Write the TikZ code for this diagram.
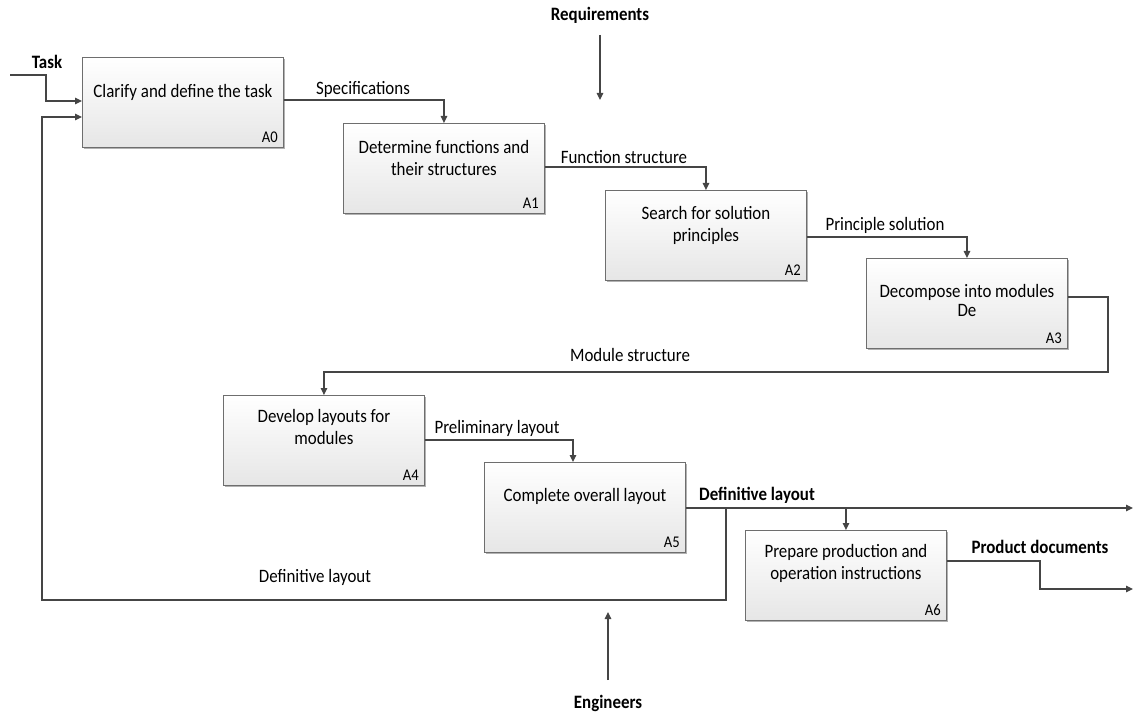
\documentclass[tikz,border=0pt]{standalone}
\usepackage{fontspec}
\setmainfont{Carlito}
\usetikzlibrary{arrows.meta,shadows,calc}
\definecolor{wire}{HTML}{454545}
\definecolor{boxline}{HTML}{6E6E6E}
\definecolor{boxlow}{HTML}{E6E6E6}
% glyphs of this sheet are set slightly taller than wide
\newcommand{\tall}[1]{\scalebox{1}[1.12]{#1}}
\newcommand{\lines}[1]{\tall{\begin{tabular}{@{}c@{}}#1\end{tabular}}}
\begin{document}
\begin{tikzpicture}[x=1pt,y=-1pt,
  font=\fontsize{16.9}{20}\selectfont,
  box/.style={draw=boxline, line width=0.9pt, top color=white, bottom color=boxlow,
    minimum width=201pt, minimum height=90pt, inner sep=0pt, anchor=north west,
    drop shadow={shadow xshift=2pt, shadow yshift=-2pt, opacity=0.3, fill=black}},
  boxtext/.style={align=center, inner sep=0pt},
  boxid/.style={font=\fontsize{14.6}{18}\selectfont, inner sep=0pt, anchor=south east},
  flow/.style={draw=wire, line width=1.2pt, -{Triangle[length=7pt,width=6.5pt]}},
  tag/.style={inner sep=0pt},
  boldtag/.style={inner sep=0pt, font=\fontsize{16.9}{20}\selectfont\bfseries},
]
\useasboundingbox (0,0) rectangle (1138,719);

% activity boxes
\node[box] (a0) at (82,57) {};
\node[box] (a1) at (343,123) {};
\node[box] (a2) at (605,190) {};
\node[box] (a3) at (866,258) {};
\node[box] (a4) at (223,395) {};
\node[box] (a5) at (484,462) {};
\node[box] (a6) at (745,530) {};

% box captions
\node[boxtext] (t0) at ($(a0.north)+(0,35)$) {\tall{Clarify and define the task}};
\node[boxtext] (t1) at ($(a1.north)+(0,37)$) {\lines{Determine functions and\\their structures}};
\node[boxtext] (t2) at ($(a2.north)+(0,36)$) {\lines{Search for solution\\principles}};
\node[boxtext] (t3a) at ($(a3.north)+(0,34)$) {\tall{Decompose into modules}};
\node[boxtext] (t3b) at ($(a3.north)+(0,52)$) {\tall{De}};
\node[boxtext] (t4) at ($(a4.north)+(0,34)$) {\lines{Develop layouts for\\modules}};
\node[boxtext] (t5) at ($(a5.north)+(0,34)$) {\tall{Complete overall layout}};
\node[boxtext] (t6) at ($(a6.north)+(0,34)$) {\lines{Prepare production and\\operation instructions}};

% box numbers
\node[boxid] (n0) at ($(a0.south east)+(-6,-5)$) {\tall{A0}};
\node[boxid] (n1) at ($(a1.south east)+(-6,-5)$) {\tall{A1}};
\node[boxid] (n2) at ($(a2.south east)+(-6,-5)$) {\tall{A2}};
\node[boxid] (n3) at ($(a3.south east)+(-6,-5)$) {\tall{A3}};
\node[boxid] (n4) at ($(a4.south east)+(-6,-5)$) {\tall{A4}};
\node[boxid] (n5) at ($(a5.south east)+(-6,-5)$) {\tall{A5}};
\node[boxid] (n6) at ($(a6.south east)+(-6,-5)$) {\tall{A6}};

% ports
\coordinate (o0) at ($(a0.north east)+(0,43)$);
\coordinate (o1) at ($(a1.north east)+(0,44)$);
\coordinate (o2) at ($(a2.north east)+(0,47)$);
\coordinate (o3) at ($(a3.north east)+(0,39)$);
\coordinate (o4) at ($(a4.north east)+(0,45)$);
\coordinate (o5) at ($(a5.north east)+(0,46)$);
\coordinate (o6) at ($(a6.north east)+(0,31)$);
\coordinate (i0a) at ($(a0.north west)+(0,44)$);
\coordinate (i0b) at ($(a0.north west)+(0,60)$);
\coordinate (i5) at ($(a5.north west)+(89,0)$);
\coordinate (rim) at (1133,0);

% external input and feedback
\coordinate (task) at (10,75);
\draw[flow] (task) -| ($(task)!0.5!(i0a)$) |- (i0a);
\coordinate (fb) at ($(o5)+(40,0)$);
\coordinate (fbc) at (42,600);
\draw[flow] (fb) |- (fbc) |- (i0b);

% main chain
\draw[flow] (o0) -| (a1.north);
\draw[flow] (o1) -| (a2.north);
\draw[flow] (o2) -| (a3.north);
\coordinate (mturn) at ($(a4.north)+(0,-23)$);
\draw[flow] (o3) -- ++(40,0) |- (mturn) -- (a4.north);
\draw[flow] (o4) -| (i5);
\draw[flow] (o5) -- (o5 -| rim);
\draw[flow] (o5 -| a6.north) -- (a6.north);
\coordinate (pd) at (1040,589);
\draw[flow] (o6) -| (pd) -- (pd -| rim);

% control and mechanism
\coordinate (rq) at (600,35);
\draw[flow] (rq) -- ++(0,65);
\coordinate (en) at (608,680);
\draw[flow] (en) -- ++(0,-68);

% arrow labels
\node[boldtag] (lt) at (47,62) {\tall{Task}};
\node[tag] (ls) at (363,89) {\tall{Specifications}};
\node[tag] (lf) at (624,157) {\tall{Function structure}};
\node[tag] (lp) at (885,225) {\tall{Principle solution}};
\node[tag] (lm) at (630,355) {\tall{Module structure}};
\node[tag] (lpl) at (497,428) {\tall{Preliminary layout}};
\node[boldtag] (ld) at (757,495) {\tall{Definitive layout}};
\node[tag] (ldf) at (315,577) {\tall{Definitive layout}};
\node[boldtag] (lpd) at (1040,547) {\tall{Product documents}};
\node[boldtag] (lr) at (600,15) {\tall{Requirements}};
\node[boldtag] (le) at (608,703) {\tall{Engineers}};
\end{tikzpicture}
\end{document}
